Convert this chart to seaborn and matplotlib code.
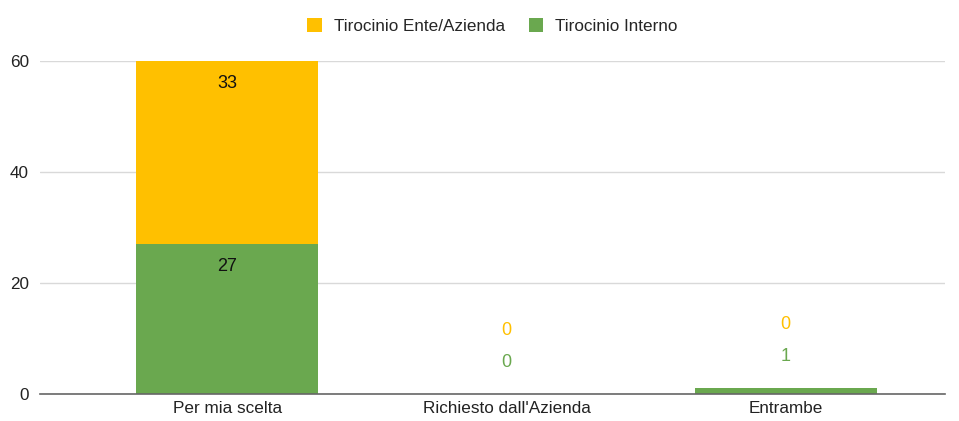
import matplotlib
matplotlib.use("Agg")
import matplotlib.pyplot as plt
import seaborn as sns
import pandas as pd

categories = ["Per mia scelta", "Richiesto dall'Azienda", "Entrambe"]
interno = [27, 0, 1]
ente = [33, 0, 0]
series_names = ["Tirocinio Ente/Azienda", "Tirocinio Interno"]
yticks = [0, 20, 40, 60]

YELLOW = "#FFC000"
GREEN = "#6AA84F"

sns.set_theme(style="white")
plt.rcParams['font.family'] = ['Liberation Sans', 'DejaVu Sans']

df = pd.DataFrame({"cat": categories, "interno": interno, "ente": ente})

fig = plt.figure(figsize=(9.59, 4.21), dpi=100)
ax = fig.add_axes([40/959, 27/421, 905/959, 333/421])

sns.barplot(data=df, x="cat", y="interno", color=GREEN, width=0.65, ax=ax,
            saturation=1, label=series_names[1], zorder=3, linewidth=0)
sns.barplot(data=df, x="cat", y="ente", color=YELLOW, width=0.65, ax=ax,
            saturation=1, bottom=df["interno"], label=series_names[0], zorder=3,
            linewidth=0)

ax.set_ylim(0, 60)
ax.set_xlim(-0.67, 2.57)
ax.set_yticks(yticks)
ax.set_xlabel("")
ax.set_ylabel("")
ax.grid(axis="y", color="#d9d9d9", linewidth=1, zorder=0)
for s in ["top", "right", "left"]:
    ax.spines[s].set_visible(False)
ax.spines["bottom"].set_color("#666666")
ax.spines["bottom"].set_linewidth(1.2)
ax.spines["bottom"].set_zorder(4)
ax.tick_params(axis="both", length=0, labelsize=12.3, colors="#222222", pad=5)
ax.tick_params(axis="y", pad=8)

# value labels
for i, (g, y) in enumerate(zip(interno, ente)):
    if g >= 5:
        ax.annotate(str(g), (i, g), xytext=(0, -16), textcoords="offset points",
                    ha="center", va="center", fontsize=13, color="#111111", zorder=5)
    else:
        ax.annotate(str(g), (i, g), xytext=(0, 23), textcoords="offset points",
                    ha="center", va="center", fontsize=13, color=GREEN, zorder=5)
    top = g + y
    if y >= 5:
        ax.annotate(str(y), (i, top), xytext=(0, -16), textcoords="offset points",
                    ha="center", va="center", fontsize=13, color="#111111", zorder=5)
    else:
        ax.annotate(str(y), (i, top), xytext=(0, 46), textcoords="offset points",
                    ha="center", va="center", fontsize=13, color=YELLOW, zorder=5)

handles, labels = ax.get_legend_handles_labels()
order = [labels.index(n) for n in series_names]
ax.legend([handles[k] for k in order], [labels[k] for k in order],
          loc="center", bbox_to_anchor=(0.5, 1.105), ncol=2, frameon=False,
          fontsize=12.3, handlelength=0.85, handleheight=0.85, columnspacing=1.4,
          handletextpad=0.7)

fig.savefig("out.png", dpi=100)
